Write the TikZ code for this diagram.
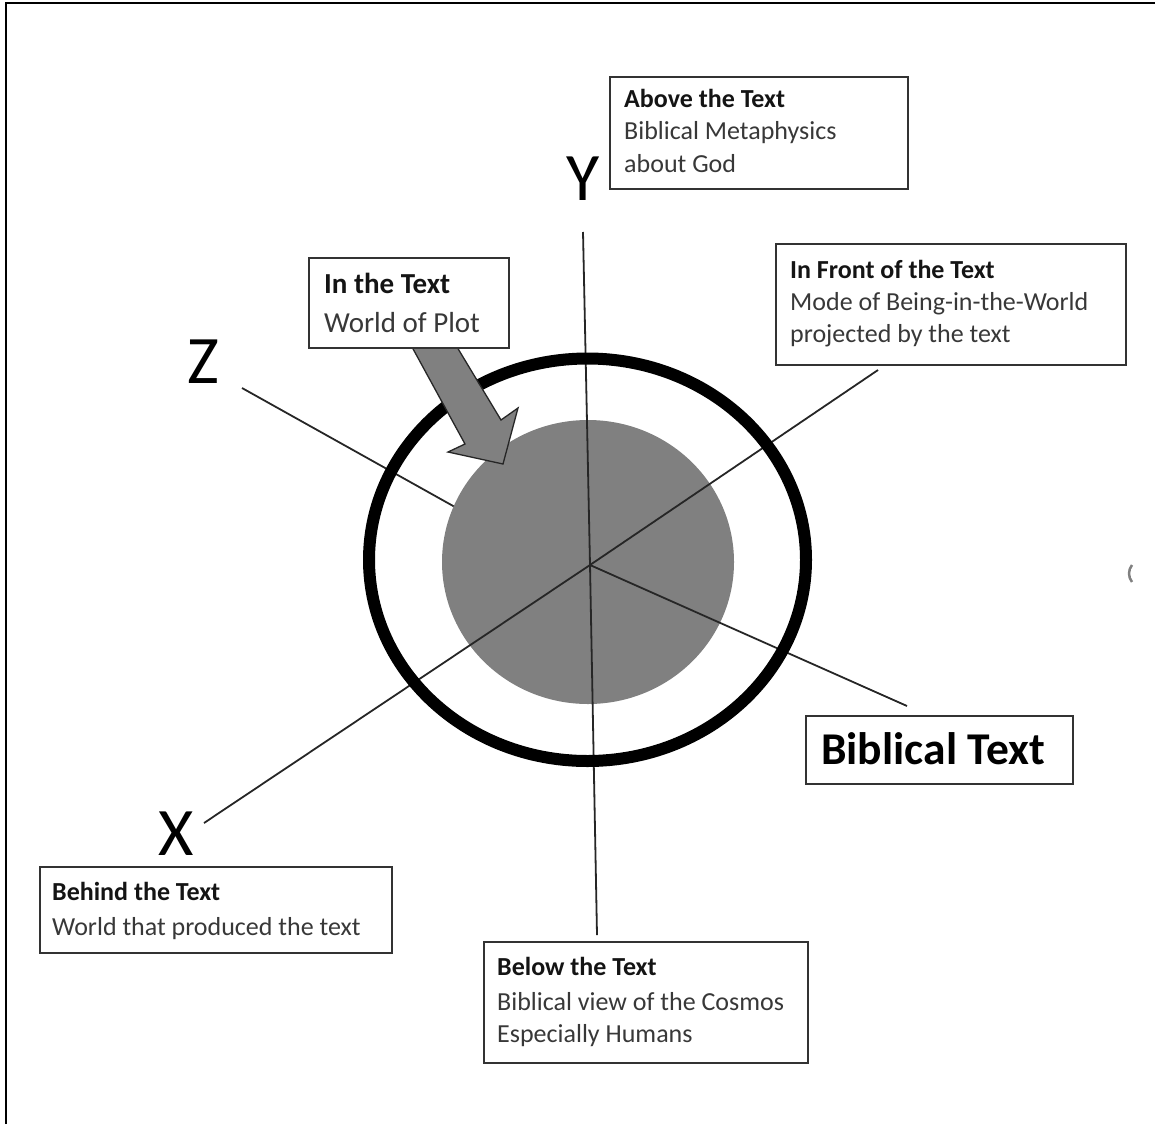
\documentclass[tikz,border=0pt]{standalone}
\usepackage{fontspec}
\setmainfont{Carlito}
\begin{document}
\begin{tikzpicture}[x=1pt,y=-1pt,
  axis/.style={line width=1.8pt, draw=black!85},
  box/.style={draw=black!80, line width=1.6pt, fill=white, inner sep=0pt, anchor=north west},
  ttl/.style={anchor=base west, inner sep=0pt, font=\fontsize{26}{32}\selectfont\bfseries, text=black!92},
  txt/.style={anchor=base west, inner sep=0pt, font=\fontsize{26}{32}\selectfont, text=black!78},
  axlbl/.style={inner sep=0pt, font=\fontsize{68}{80}\selectfont, text=black}]
\useasboundingbox (0,0) rectangle (1155,1124);
% frame
\draw[line width=2pt] (6,1124) -- (6,3) -- (1155,3);
% coordinates
\coordinate (c) at (590,565);
\coordinate (yt) at (583,232);
\coordinate (yb) at (597,935);
\coordinate (zt) at (242,388);
\coordinate (zin) at (480,521);
\coordinate (br) at (907,706);
\coordinate (fr) at (878,370);
\coordinate (xb) at (204,823);
% Z line under the disk
\draw[axis] (zt) -- (zin);
% disk
\fill[gray] (588,562) ellipse [x radius=146, y radius=142];
% axes
\draw[axis] (c) -- (yt);
\draw[axis] (c) -- (yb);
\draw[axis] (c) -- (br);
\draw[axis] (c) -- (fr);
\draw[axis] (c) -- (xb);
% ring
\draw[line width=12pt] (587.5,559.75) ellipse [x radius=218.5, y radius=201.25];
% block arrow
\draw[fill=gray, draw=black!85, line width=1.3pt, line join=miter]
  (412,347) -- (465,444) -- (448,452) -- (503,464) -- (518,408) -- (501,420) -- (457,347) -- cycle;
% boxes
\node[box, minimum width=298pt, minimum height=112pt] (abovebox) at (609,76) {};
\node[box, minimum width=350pt, minimum height=121pt] (frontbox) at (775,243) {};
\node[box, minimum width=200pt, minimum height=90pt] (inbox) at (308,257) {};
\node[box, minimum width=267pt, minimum height=68pt] (biblebox) at (805,715) {};
\node[box, minimum width=352pt, minimum height=86pt] (behindbox) at (39,866) {};
\node[box, minimum width=324pt, minimum height=121pt] (belowbox) at (483,941) {};
% texts
\node[ttl] (a1) at (624,107) {Above the Text};
\node[txt] (a2) at (624,139) {Biblical Metaphysics};
\node[txt] (a3) at (624,172) {about God};
\node[ttl] (f1) at (790,278) {In Front of the Text};
\node[txt] (f2) at (790,310) {Mode of Being-in-the-World};
\node[txt] (f3) at (790,342) {projected by the text};
\node[ttl, font=\fontsize{29}{36}\selectfont\bfseries] (i1) at (324,293) {In the Text};
\node[txt, font=\fontsize{29}{36}\selectfont] (i2) at (324,332) {World of Plot};
\node[ttl, font=\fontsize{45.5}{52}\selectfont\bfseries, text=black] (b1) at (821,764) {Biblical Text};
\node[ttl] (h1) at (52,900) {Behind the Text};
\node[txt] (h2) at (52,935) {World that produced the text};
\node[ttl] (l1) at (497,975) {Below the Text};
\node[txt] (l2) at (497,1010) {Biblical view of the Cosmos};
\node[txt] (l3) at (497,1042) {Especially Humans};
% axis letters
\node[axlbl] (ylbl) at (583,179) {Y};
\node[axlbl] (zlbl) at (203,362) {Z};
\node[axlbl] (xlbl) at (176,834) {X};
% small cropped fragment at right
\draw[gray, line width=2.5pt] (1132,565) .. controls (1128,570) and (1128,577) .. (1132,582);
\end{tikzpicture}
\end{document}
